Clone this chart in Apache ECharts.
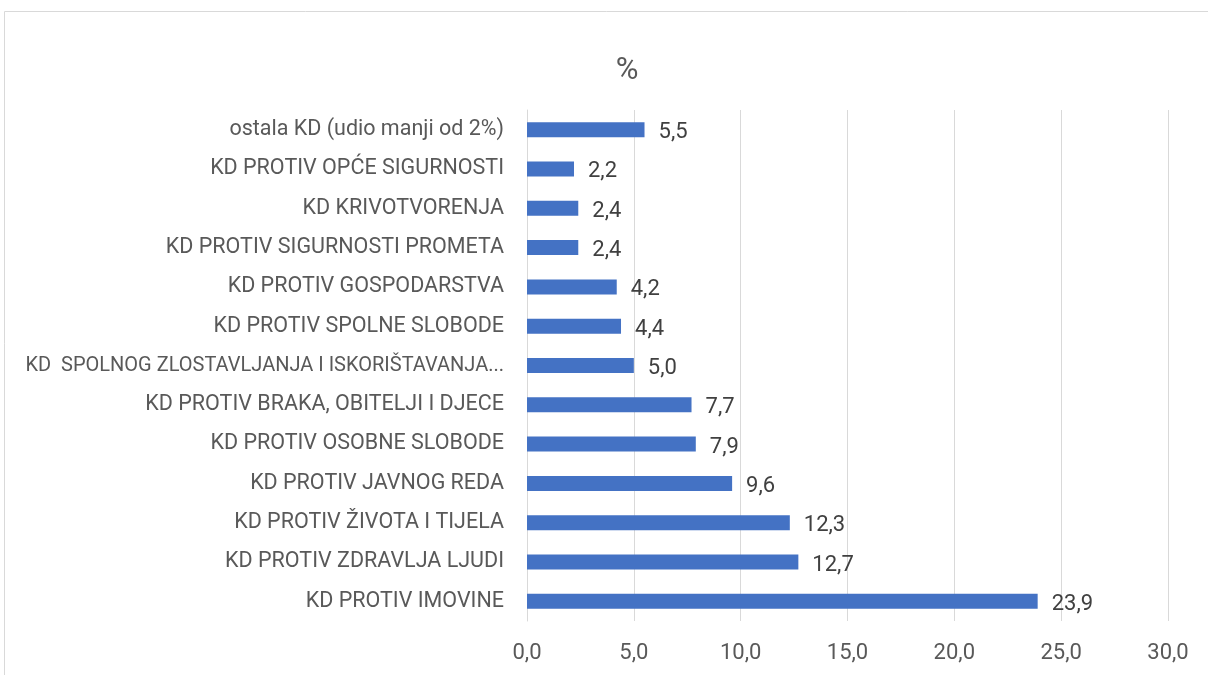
<!DOCTYPE html>
<html>
<head>
<meta charset="utf-8">
<script src="https://cdn.jsdelivr.net/npm/echarts@6/dist/echarts.min.js"></script>
<style>
  html, body { margin: 0; padding: 0; background: #fff; }
  #chart { width: 1208px; height: 675px; }
</style>
</head>
<body>
<div id="chart"></div>
<script>
// kategorije odozdo prema gore
var categories = [
  'KD PROTIV IMOVINE',
  'KD PROTIV ZDRAVLJA LJUDI',
  'KD PROTIV ŽIVOTA I TIJELA',
  'KD PROTIV JAVNOG REDA',
  'KD PROTIV OSOBNE SLOBODE',
  'KD PROTIV BRAKA, OBITELJI I DJECE',
  'KD  SPOLNOG ZLOSTAVLJANJA I ISKORIŠTAVANJA...',
  'KD PROTIV SPOLNE SLOBODE',
  'KD PROTIV GOSPODARSTVA',
  'KD PROTIV SIGURNOSTI PROMETA',
  'KD KRIVOTVORENJA',
  'KD PROTIV OPĆE SIGURNOSTI',
  'ostala KD (udio manji od 2%)'
];
var values = [23.9, 12.7, 12.3, 9.6, 7.9, 7.7, 5.0, 4.4, 4.2, 2.4, 2.4, 2.2, 5.5];

var fontFam = 'Roboto, "Noto Sans", sans-serif';
var chart = echarts.init(document.getElementById('chart'));

function fmt(v) { return v.toFixed(1).replace('.', ','); }

var option = {
  animation: false,
  title: {
    text: '%',
    left: 622,
    top: 51,
    textAlign: 'center',
    textStyle: { fontFamily: fontFam, fontSize: 31, fontWeight: 'normal', color: '#595959' }
  },
  graphic: [{
    type: 'rect',
    shape: { x: 4.5, y: 11.5, width: 1300, height: 800 },
    style: { fill: 'none', stroke: '#d9d9d9', lineWidth: 1 },
    silent: true
  }],
  grid: { left: 527, right: 40, top: 110, bottom: 54, containLabel: false, outerBoundsMode: 'none' },
  xAxis: {
    type: 'value',
    min: 0,
    max: 30,
    interval: 5,
    axisLine: { show: false },
    axisTick: { show: false },
    splitLine: { lineStyle: { color: '#d9d9d9', width: 1 } },
    axisLabel: {
      margin: 21,
      fontFamily: fontFam,
      fontSize: 22,
      color: '#595959',
      formatter: fmt
    }
  },
  yAxis: {
    type: 'category',
    data: categories,
    axisLine: { show: true, lineStyle: { color: '#d9d9d9' } },
    axisTick: { show: false },
    axisLabel: {
      margin: 23,
      fontFamily: fontFam,
      fontSize: 21.5,
      color: '#595959',
      formatter: function (v) {
        return v.length > 40 ? '{long|' + v + '}' : v;
      },
      rich: {
        long: { fontFamily: fontFam, fontSize: 20, color: '#595959' }
      }
    }
  },
  series: [{
    type: 'bar',
    data: values,
    barWidth: 15,
    itemStyle: { color: '#4472c4' },
    label: {
      show: true,
      position: 'right',
      distance: 14,
      offset: [0, 3],
      fontFamily: fontFam,
      fontSize: 22,
      color: '#404040',
      formatter: function (p) { return fmt(p.value); }
    }
  }]
};
chart.setOption(option);
</script>
</body>
</html>
